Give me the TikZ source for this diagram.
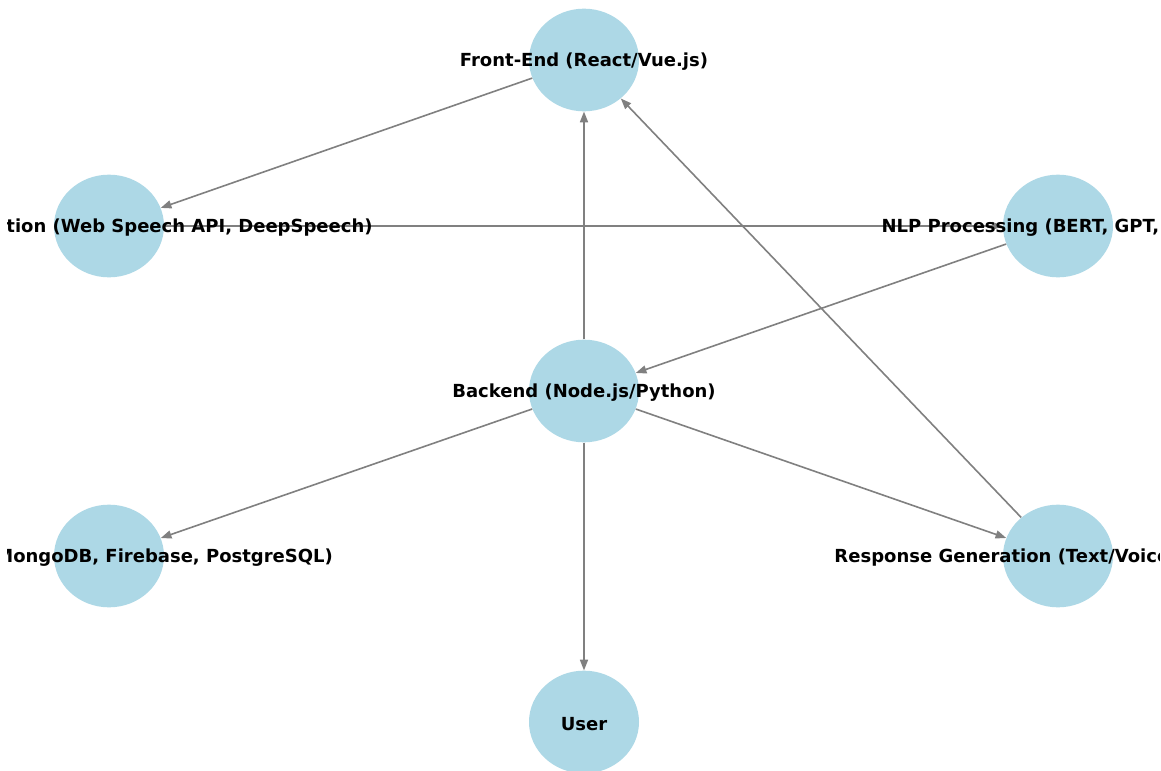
\documentclass[tikz,border=0pt]{standalone}
\usepackage{fontspec}
\setmainfont{DejaVu Sans}
\usetikzlibrary{arrows.meta,shapes.geometric}
\definecolor{nodeblue}{HTML}{ADD8E6}
\definecolor{edgegray}{HTML}{808080}
\begin{document}
\begin{tikzpicture}[x=0.75pt,y=-0.75pt,
  nd/.style={ellipse, fill=nodeblue, minimum width=82.5pt, minimum height=77pt, inner sep=0pt},
  lbl/.style={font=\bfseries\fontsize{13.5}{16}\selectfont, inner sep=0pt, text=black, yshift=-1.5pt},
  edge/.style={draw=edgegray, line width=1.2pt, -{Triangle[length=8pt,width=6pt]}}]
\path[use as bounding box, fill=white] (0,0) rectangle (1161,771);
\clip (7,0) rectangle (1159,771);
% nodes
\node[nd] (fe) at (584,60) {};
\node[nd] (stt) at (109,226) {};
\node[nd] (nlp) at (1058,226) {};
\node[nd] (be) at (584,391) {};
\node[nd] (db) at (109,556) {};
\node[nd] (rg) at (1058,556) {};
\node[nd] (us) at (584,722) {};
% edges
\draw[edge] (fe) -- (stt);
\draw[edge] (stt) -- (nlp);
\draw[edge] (nlp) -- (be);
\draw[edge] (be) -- (fe);
\draw[edge] (be) -- (db);
\draw[edge] (be) -- (rg);
\draw[edge] (be) -- (us);
\draw[edge] (rg) -- (fe);
% labels
\node[lbl] (fe-t) at (fe.center) {Front-End (React/Vue.js)};
\node[lbl] (stt-t) at (stt.center) {Speech Recognition (Web Speech API, DeepSpeech)};
\node[lbl] (nlp-t) at (nlp.center) {NLP Processing (BERT, GPT, spaCy)};
\node[lbl] (be-t) at (be.center) {Backend (Node.js/Python)};
\node[lbl] (db-t) at (db.center) {Database (MongoDB, Firebase, PostgreSQL)};
\node[lbl] (rg-t) at (rg.center) {Response Generation (Text/Voice Response)};
\node[lbl] (us-t) at (us.center) {User};
\end{tikzpicture}
\end{document}
